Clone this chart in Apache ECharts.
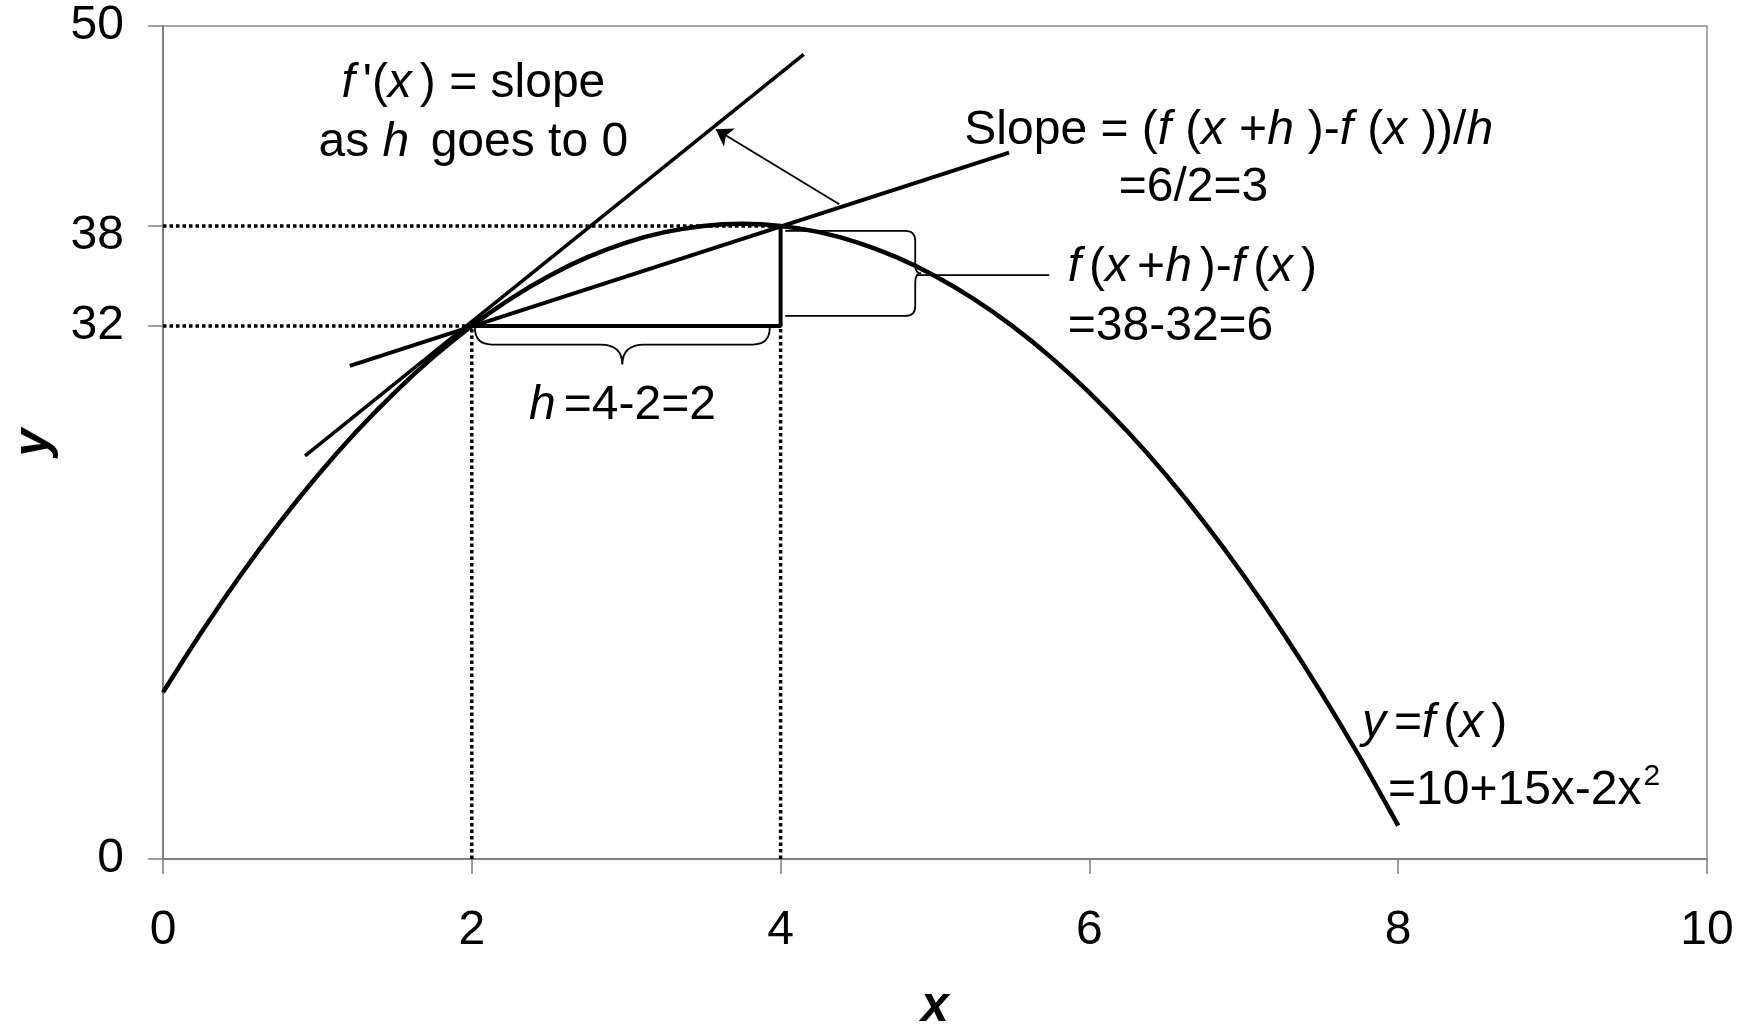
<!DOCTYPE html>
<html>
<head>
<meta charset="utf-8">
<script src="https://cdn.jsdelivr.net/npm/echarts@6/dist/echarts.min.js"></script>
<style>
  html, body { margin: 0; padding: 0; background: #ffffff; }
  #chart { width: 1754px; height: 1028px; }
</style>
</head>
<body>
<div id="chart"></div>
<script>
// y = f(x) = 10 + 15x - 2x^2, listed every quarter unit of x
const curveX = [0, 0.25, 0.5, 0.75, 1, 1.25, 1.5, 1.75, 2, 2.25, 2.5, 2.75, 3, 3.25, 3.5, 3.75,
                4, 4.25, 4.5, 4.75, 5, 5.25, 5.5, 5.75, 6, 6.25, 6.5, 6.75, 7, 7.25, 7.5, 7.75, 8];
const curveY = [10, 13.625, 17, 20.125, 23, 25.625, 28, 30.125, 32, 33.625, 35, 36.125, 37, 37.625, 38, 38.125,
                38, 37.625, 37, 36.125, 35, 33.625, 32, 30.125, 28, 25.625, 23, 20.125, 17, 13.625, 10, 6.125, 2];

// axis ticks
const xTickValues = [0, 2, 4, 6, 8, 10];
const yTickValues = [0, 32, 38, 50];

// the two points of the difference quotient: (x, f(x)) and (x+h, f(x+h))
const pointA = [2, 32];
const pointB = [4, 38];

// tangent line at x = 2 and the secant through A and B
const tangentLine = [[0.92, 24.2], [4.15, 48.3]];
const secantLine = [[1.21, 29.6], [5.48, 42.4]];

// arrow from the secant towards the tangent
const arrowFrom = [4.38, 39.3];
const arrowTo = [3.58, 43.8];

// braces marking the run (h) and the rise (f(x+h) - f(x))
const runBrace = [[2.02, 31.9], [3.93, 31.9]];
const riseBrace = [[4.03, 32.6], [4.03, 37.7]];
const riseLeader = [[4.88, 35.05], [5.74, 35.05]];

const FONT = "'Liberation Sans', Arial, Helvetica, sans-serif";
const BLACK = '#000000';
const AXIS_GREY = '#7f7f7f';

const rich = {
  i: { fontStyle: 'italic', fontSize: 48, fontFamily: FONT, padding: [0, 8, 0, 0] },
  j: { fontStyle: 'italic', fontSize: 48, fontFamily: FONT, padding: [0, 14, 0, 0] },
  sup: { fontSize: 30, fontFamily: FONT, verticalAlign: 'top', padding: [0, 0, 0, 2] }
};

// text blocks placed in data coordinates
const notes = [
  { at: [2.01, 44.75], align: 'center', text: "{i|f}'({i|x}) = slope\nas {i|h} goes to 0" },
  { at: [5.19, 43.70], align: 'left', text: 'Slope = ({j|f}({j|x}+{j|h})-{j|f}({j|x}))/{j|h}' },
  { at: [6.19, 40.28], align: 'left', text: '=6/2=3' },
  { at: [5.86, 35.47], align: 'left', text: '{i|f}({i|x}+{i|h})-{i|f}({i|x})' },
  { at: [5.86, 31.93], align: 'left', text: '=38-32=6' },
  { at: [2.976, 27.19], align: 'center', text: '{i|h}=4-2=2' },
  { at: [7.765, 8.10], align: 'left', text: '{i|y}={i|f}({i|x})' },
  { at: [7.934, 4.08], align: 'left', text: '=10+15x-2x{sup|2}' }
];

function segment(name, pts, width, dashed, z) {
  return {
    name: name,
    type: 'line',
    data: pts,
    symbol: 'none',
    silent: true,
    z: z || 3,
    lineStyle: {
      color: BLACK,
      width: width,
      type: dashed ? [3.5, 3] : 'solid',
      cap: 'butt'
    }
  };
}

// curly brace between two data points; depth/radius/cusp are pixel sizes
function braceSeries(name, ends, depth, radius, cusp, cuspR) {
  return {
    name: name,
    type: 'custom',
    coordinateSystem: 'cartesian2d',
    silent: true,
    z: 4,
    data: [[ends[0][0], ends[0][1], ends[1][0], ends[1][1]]],
    encode: { x: [0, 2], y: [1, 3] },
    renderItem: function (params, api) {
      const a = api.coord([api.value(0), api.value(1)]);
      const b = api.coord([api.value(2), api.value(3)]);
      const dx = b[0] - a[0], dy = b[1] - a[1];
      const L = Math.hypot(dx, dy);
      const ux = dx / L, uy = dy / L, nx = -uy, ny = ux;
      const P = function (s, t) {
        return (a[0] + ux * s + nx * t).toFixed(2) + ' ' + (a[1] + uy * s + ny * t).toFixed(2);
      };
      const m = L / 2;
      const d = 'M' + P(0, 0) +
        ' L' + P(0, depth - radius) +
        ' Q' + P(0, depth) + ' ' + P(radius, depth) +
        ' L' + P(m - cuspR, depth) +
        ' Q' + P(m, depth) + ' ' + P(m, depth + cusp) +
        ' Q' + P(m, depth) + ' ' + P(m + cuspR, depth) +
        ' L' + P(L - radius, depth) +
        ' Q' + P(L, depth) + ' ' + P(L, depth - radius) +
        ' L' + P(L, 0);
      return {
        type: 'path',
        shape: { pathData: d },
        style: { stroke: BLACK, fill: 'none', lineWidth: 1.8 }
      };
    }
  };
}

const curveData = curveX.map(function (x, i) { return [x, curveY[i]]; });

const chart = echarts.init(document.getElementById('chart'), null, { renderer: 'canvas' });

chart.setOption({
  animation: false,
  backgroundColor: '#ffffff',
  textStyle: { fontFamily: FONT, color: BLACK },
  grid: {
    left: 163, right: 47, top: 26, bottom: 169,
    containLabel: false,
    outerBoundsMode: 'none',
    show: true,
    borderColor: '#8c8c8c',
    borderWidth: 1.5,
    backgroundColor: 'transparent'
  },
  xAxis: {
    type: 'value',
    min: 0,
    max: 10,
    interval: 2,
    name: 'x',
    nameLocation: 'middle',
    nameGap: 123,
    nameMoveOverlap: false,
    nameTextStyle: { fontFamily: FONT, fontSize: 50, lineHeight: 50, fontWeight: 'bold', fontStyle: 'italic', color: BLACK },
    axisLine: { show: true, lineStyle: { color: AXIS_GREY, width: 2 } },
    axisTick: { show: true, inside: false, length: 15, lineStyle: { color: AXIS_GREY, width: 1.5 } },
    axisLabel: {
      fontFamily: FONT, fontSize: 48, lineHeight: 48, color: BLACK, margin: 48,
      customValues: xTickValues
    },
    splitLine: { show: false }
  },
  yAxis: {
    type: 'value',
    min: 0,
    max: 50,
    name: 'y',
    nameLocation: 'middle',
    nameGap: 104,
    nameMoveOverlap: false,
    nameTextStyle: { fontFamily: FONT, fontSize: 50, lineHeight: 50, fontWeight: 'bold', fontStyle: 'italic', color: BLACK },
    axisLine: { show: true, lineStyle: { color: AXIS_GREY, width: 2 } },
    axisTick: { show: true, inside: false, length: 15, lineStyle: { color: AXIS_GREY, width: 1.5 }, customValues: yTickValues },
    axisLabel: {
      fontFamily: FONT, fontSize: 48, lineHeight: 48, color: BLACK, margin: 39,
      customValues: yTickValues,
      // the 38 label sits a little below its guide line
      formatter: function (v) { return v === 38 ? '{low|38}' : String(v); },
      rich: { low: { fontFamily: FONT, fontSize: 48, lineHeight: 48, padding: [20, 0, 0, 0] } }
    },
    splitLine: { show: false }
  },
  series: [
    // dotted guides to the axes
    segment('guide38', [[0, pointB[1]], pointB], 3.5, true, 2),
    segment('guide32', [[0, pointA[1]], pointA], 3.5, true, 2),
    segment('guideX2', [[pointA[0], 0], pointA], 3.5, true, 2),
    segment('guideX4', [[pointB[0], 0], [pointB[0], pointA[1]]], 3.5, true, 2),
    // run and rise
    segment('runRise', [pointA, [pointB[0], pointA[1]], pointB], 4, false, 3),
    // the function
    {
      name: 'f',
      type: 'line',
      data: curveData,
      symbol: 'none',
      smooth: 0.3,
      silent: true,
      z: 5,
      lineStyle: { color: BLACK, width: 4.5 }
    },
    segment('tangent', tangentLine, 3.5, false, 4),
    segment('secant', secantLine, 4, false, 4),
    segment('riseLeader', riseLeader, 1.8, false, 4),
    braceSeries('runBrace', runBrace, 17, 17, 20, 22),
    braceSeries('riseBrace', riseBrace, 130, 10, 6, 9),
    {
      name: 'arrow',
      type: 'lines',
      coordinateSystem: 'cartesian2d',
      silent: true,
      z: 6,
      symbol: ['none', 'arrow'],
      symbolSize: 16,
      lineStyle: { color: BLACK, width: 1.8, opacity: 1 },
      itemStyle: { color: BLACK },
      data: [{ coords: [arrowFrom, arrowTo] }]
    },
    {
      name: 'notes',
      type: 'custom',
      coordinateSystem: 'cartesian2d',
      silent: true,
      z: 10,
      data: notes.map(function (n, i) { return [n.at[0], n.at[1], i]; }),
      encode: { x: 0, y: 1 },
      renderItem: function (params, api) {
        const n = notes[params.dataIndex];
        const p = api.coord([api.value(0), api.value(1)]);
        return {
          type: 'text',
          x: p[0],
          y: p[1],
          style: {
            text: n.text,
            rich: rich,
            fontSize: 48,
            fontFamily: FONT,
            fill: BLACK,
            align: n.align,
            verticalAlign: 'middle',
            lineHeight: 59
          }
        };
      }
    }
  ]
});
</script>
</body>
</html>
